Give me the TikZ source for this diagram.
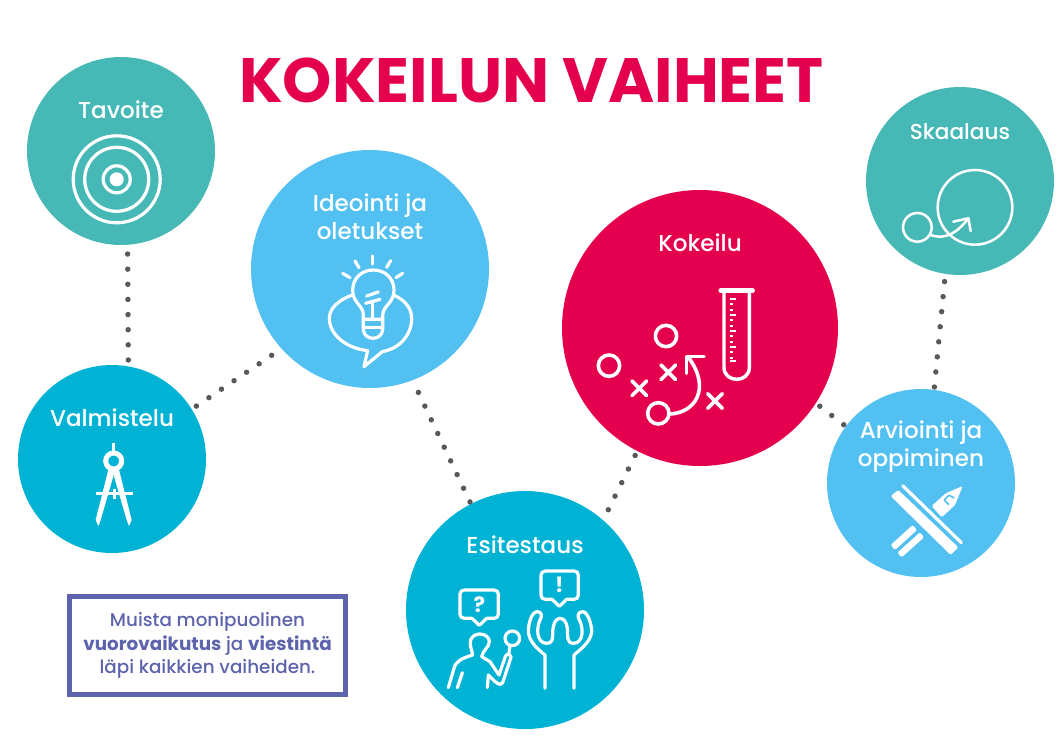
\documentclass[tikz,border=0pt]{standalone}
\usepackage{fontspec}
\setmainfont{Poppins Medium}[BoldFont={Poppins Bold}]
\definecolor{teal1}{HTML}{46B9B7}
\definecolor{sky1}{HTML}{53C0F2}
\definecolor{cyan1}{HTML}{00B2D3}
\definecolor{crim}{HTML}{E4004F}
\definecolor{viol}{HTML}{5D63AC}
\definecolor{dotg}{HTML}{58595B}
\tikzset{
  disc/.style={circle,fill=#1,draw=none,inner sep=0pt},
  r94/.style={minimum size=141pt},
  r119/.style={minimum size=178.5pt},
  r138/.style={minimum size=207pt},
  cap1/.style={text=white,font=\fontsize{17.3}{21}\selectfont,align=center,inner sep=0pt},
  link/.style={draw=dotg,line width=4.1pt,line cap=round,dash pattern=on 0pt off 11.35pt},
  ico/.style={draw=white,line width=2.4pt,line cap=round,line join=round},
  zoomed/.style={shift={#1},scale=1/3}
}
\begin{document}
\begin{tikzpicture}[x=0.75pt,y=-0.75pt]
\useasboundingbox (0,0) rectangle (1062,749);
\node[disc=teal1,r94] (tav) at (121,151) {};
\node[disc=sky1,r119] (ide) at (370,269) {};
\node[disc=crim,r138] (kok) at (700,328) {};
\node[disc=teal1,r94] (ska) at (960,181) {};
\node[disc=cyan1,r94] (val) at (112,459) {};
\node[disc=cyan1,r119] (esi) at (525,610) {};
\node[disc=sky1,r94] (arv) at (921,483) {};
\draw[link,shorten <=6.75pt,shorten >=1pt] (tav.-86) -- (val.80);
\draw[link,shorten <=4pt,shorten >=7pt] (val.32.5) -- (ide.222.4);
\draw[link,shorten <=10pt] (ide.-69.5) -- (esi.117.4);
\draw[link,shorten <=8.6pt,shorten >=2pt] (esi.49.6) -- (kok.-117.4);
\draw[link,shorten <=3.6pt,shorten >=0.5pt] (kok.-33.3) -- (arv.143.6);
\draw[link,shorten <=2pt,shorten >=4pt] (arv.82.7) -- (ska.-99);
\node[text=crim,font=\fontsize{47}{50}\selectfont\bfseries,inner sep=0pt] (title) at (531.5,80) {KOKEILUN VAIHEET};
\node[cap1] (ltav) at (121,110) {Tavoite};
\node[cap1] (lide) at (370,217) {Ideointi ja\\oletukset};
\node[cap1] (lkok) at (700,243) {Kokeilu};
\node[cap1,font=\fontsize{16.2}{21}\selectfont] (lska) at (960,132) {Skaalaus};
\node[cap1] (lval) at (112,418) {Valmistelu};
\node[cap1] (lesi) at (525,545) {Esitestaus};
\node[cap1] (larv) at (921,446.5) {Arviointi ja\\oppiminen};
% note
\node[draw=viol,line width=3.75pt,fill=white,minimum width=207pt,minimum height=74pt,text=viol,align=center,inner sep=0pt,
 font=\fontsize{13.75}{17.6}\selectfont] (note) at (207.5,645.5) {Muista monipuolinen\\\textbf{vuorovaikutus} ja \textbf{viestintä}\\läpi kaikkien vaiheiden.};
% Tavoite icon
\begin{scope}[shift={(116.7,179.3)}]
\draw[ico] (0,0) circle (43.5);
\draw[ico] (0,0) circle (32);
\draw[ico] (0,0) circle (13.5);
\fill[white] (0,0) circle (7);
\end{scope}
% Bulb
\begin{scope}[zoomed={(300,240)}]
\draw[ico] (190,238) -- (190,225) .. controls (190,195) and (158,190) .. (158,150) .. controls (158,115) and (185,90) .. (220,90) .. controls (255,90) and (282,115) .. (282,150) .. controls (282,190) and (250,195) .. (248,225) -- (248,238) -- cycle;
\draw[ico] (190,238) -- (190,268) .. controls (190,285) and (205,295) .. (219,295) .. controls (233,295) and (248,285) .. (248,268) -- (248,238);
\draw[ico] (190,263) -- (248,263);
\draw[ico] (218,238) -- (218,185);
\draw[ico] (197,190) -- (240,178);
\draw[ico] (200,168) -- (235,156);
\draw[ico] (218,48) -- (218,72);
\draw[ico] (165,63) -- (177,83);
\draw[ico] (128,100) -- (150,113);
\draw[ico] (260,82) -- (272,62);
\draw[ico] (288,113) -- (308,100);
\draw[ico] (157,165) .. controls (115,180) and (88,205) .. (88,235) .. controls (88,285) and (140,325) .. (203,332) -- (192,380) -- (247,335) .. controls (300,325) and (335,285) .. (335,235) .. controls (335,205) and (315,180) .. (281,165);
\end{scope}
% Kokeilu icons
\begin{scope}[zoomed={(580,270)}]
\draw[ico,line width=3.4pt] (422,62) -- (518,62);
\draw[ico,line width=2.6pt] (432,62) -- (432,292) .. controls (432,340) and (508,340) .. (508,292) -- (508,62);
\foreach \yy [count=\i] in {87,103,119,135,151,167,183,199,215,231,247,263,272}{
  \pgfmathsetmacro{\xe}{ifthenelse(mod(\i,3)==1,467,460)}
  \draw[white,line width=1.4pt] (449,\yy) -- (\xe,\yy);
}
\draw[ico,line width=2.7pt] (258,198) circle (32);
\draw[ico,line width=2.7pt] (87,287) circle (32);
\draw[ico,line width=2.7pt] (235,430) circle (32);
\foreach \cx/\cy in {265/307,178/355,405/393}{
 \draw[ico,line width=2.7pt] (\cx-22,\cy-22) -- (\cx+22,\cy+22) (\cx-22,\cy+22) -- (\cx+22,\cy-22);
}
\draw[ico,line width=2.7pt] (268,432) .. controls (345,430) and (395,355) .. (325,262);
\draw[ico,line width=2.7pt] (320,310) -- (320,260) -- (372,260);
\end{scope}
% Skaalaus
\begin{scope}[zoomed={(880,150)}]
\draw[ico,line width=1.9pt] (285,172) circle (112);
\draw[ico,line width=1.9pt] (112,232) circle (43);
\draw[ico,line width=1.9pt] (152,255) .. controls (180,265) and (220,265) .. (265,205);
\draw[ico,line width=1.9pt] (220,215) -- (265,205) -- (272,243);
\end{scope}
% Arviointi
\begin{scope}[zoomed={(860,470)}]
\fill[white,rounded corners=1pt] (92,78) -- (115,60) -- (295,232) -- (272,255) -- cycle;
\draw[ico,line width=2.4pt] (128,47) -- (304,218);
\fill[white,rounded corners=1pt] (92,225) -- (158,165) -- (171,180) -- (105,240) -- cycle;
\fill[white,rounded corners=1pt] (112,248) -- (180,187) -- (192,202) -- (125,262) -- cycle;
\end{scope}
\begin{scope}[zoomed={(925,480)}]
\fill[white,rounded corners=1pt] (20,78) -- (62,40) -- (113,18) -- (90,75) -- (50,112) -- cycle;
\draw[sky1,line width=1.2pt,line join=round] (88,54) -- (72,46) -- (58,60) -- (72,74);
\end{scope}
% Esitestaus
\begin{scope}[zoomed={(430,560)}]
\draw[ico] (103,90) -- (192,90) .. controls (200,90) and (205,95) .. (205,103) -- (205,162) .. controls (205,170) and (200,175) .. (192,175) -- (170,175) -- (148,196) -- (126,175) -- (103,175) .. controls (95,175) and (90,170) .. (90,162) -- (90,103) .. controls (90,95) and (95,90) .. (103,90) -- cycle;
\node[text=white,inner sep=0pt,font=\fontsize{16}{16}\selectfont\bfseries] (qm) at (148,134) {?};
\draw[ico] (346,33) -- (432,33) .. controls (440,33) and (445,38) .. (445,46) -- (445,105) .. controls (445,113) and (440,118) .. (432,118) -- (410,118) -- (388,139) -- (366,118) -- (346,118) .. controls (338,118) and (333,113) .. (333,105) -- (333,46) .. controls (333,38) and (338,33) .. (346,33) -- cycle;
\node[text=white,inner sep=0pt,font=\fontsize{16}{16}\selectfont\bfseries] (em) at (388,75) {!};
\draw[ico] (55,383) -- (72,325) .. controls (78,303) and (95,295) .. (128,285) .. controls (125,265) and (118,258) .. (122,240) .. controls (126,228) and (138,222) .. (150,222) .. controls (165,222) and (178,232) .. (178,245) .. controls (178,262) and (158,270) .. (155,290) -- (180,305) -- (207,345) -- (226,290) .. controls (230,280) and (240,280) .. (243,292) -- (218,368) .. controls (210,382) and (195,365) .. (175,345) -- (172,383);
\draw[ico] (82,383) -- (97,338);
\draw[ico] (247,235) circle (22);
\draw[ico] (240,258) -- (236,283);
\draw[ico] (345,385) -- (345,285) .. controls (320,265) and (298,245) .. (295,215) .. controls (295,190) and (305,155) .. (322,155) .. controls (335,155) and (338,168) .. (330,180) .. controls (318,205) and (320,250) .. (350,250) .. controls (375,250) and (365,220) .. (370,200) .. controls (373,180) and (385,175) .. (390,175) .. controls (400,175) and (410,185) .. (412,205) .. controls (414,225) and (408,250) .. (430,250) .. controls (460,250) and (462,205) .. (448,180) .. controls (440,168) and (445,155) .. (458,155) .. controls (472,155) and (485,190) .. (485,215) .. controls (482,245) and (455,265) .. (432,285) -- (432,385);
\end{scope}
% Compass
\begin{scope}[zoomed={(80,430)}]
\draw[white,line width=2.6pt] (101,38) -- (101,62);
\draw[white,line width=3.75pt] (101,93) circle (24);
\fill[white] (86,115) -- (104,125) -- (62,270) -- (55,288) -- (47,270) -- cycle;
\fill[white] (116,115) -- (98,125) -- (140,270) -- (147,288) -- (155,270) -- cycle;
\draw[white,line width=2pt] (47,190) -- (158,190);
\draw[white,line width=2.6pt] (103,178) -- (103,208);
\end{scope}
\end{tikzpicture}
\end{document}
